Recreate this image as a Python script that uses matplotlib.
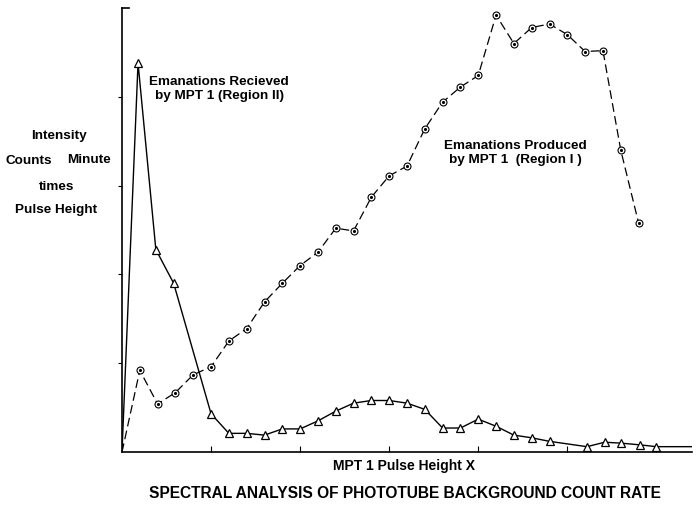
import matplotlib
matplotlib.use("Agg")
import matplotlib.pyplot as plt

plt.rcParams['font.family'] = ['Liberation Sans', 'DejaVu Sans']

# Emanations Produced by MPT 1 (Region I) - circles, dashed
prod_x = list(range(0, 30))
prod_y = [0, 9.2, 5.4, 6.7, 8.7, 9.6, 12.5, 13.9, 16.9, 19.0,
          21.0, 22.5, 25.2, 24.9, 28.7, 31.1, 32.2, 36.4, 39.4, 41.1,
          42.4, 49.2, 46.0, 47.8, 48.2, 47.0, 45.1, 45.2, 34.0, 25.8]

# Emanations Received by MPT 1 (Region II) - triangles, solid
recv_x = [0, 0.9, 1.9, 2.9, 5, 6, 7, 8, 9, 10, 11, 12, 13, 14, 15, 16, 17,
          18, 19, 20, 21, 22, 23, 24, 26.1, 27.1, 28, 29.1, 30, 32]
recv_y = [0, 43.8, 22.8, 19.0, 4.3, 2.1, 2.1, 1.9, 2.6, 2.6, 3.5, 4.6, 5.5,
          5.8, 5.8, 5.5, 4.8, 2.7, 2.7, 3.7, 2.9, 1.9, 1.6, 1.2, 0.6, 1.1,
          1.0, 0.8, 0.6, 0.6]
recv_marked = 29  # last point is line end only

x_ticks = [5, 10, 15, 20, 25, 30]
y_ticks = [10, 20, 30, 40]

fig = plt.figure(figsize=(6.96, 5.07), dpi=100)
ax = fig.add_axes([122/696, 1-452/507, (692-122)/696, (452-8)/507])
ax.set_xlim(0, 32)
ax.set_ylim(0, 50)

ax.plot(prod_x, prod_y, color='black', lw=0.9, ls=(0, (7, 3.5)))
ax.plot(prod_x[1:], prod_y[1:], ls='none', marker='o', ms=5, mfc='white',
        mec='black', mew=0.8)
ax.plot(prod_x[1:], prod_y[1:], ls='none', marker='.', ms=2.5, color='black')

ax.plot(recv_x, recv_y, color='black', lw=1.0)
ax.plot(recv_x[1:recv_marked], recv_y[1:recv_marked], ls='none', marker='^',
        ms=5.5, mfc='white', mec='black', mew=0.9)

for s in ['top', 'right']:
    ax.spines[s].set_visible(False)
ax.spines['left'].set_linewidth(1.2)
ax.spines['bottom'].set_linewidth(1.2)
ax.set_xticks(x_ticks)
ax.set_yticks(y_ticks)
ax.set_xticklabels([])
ax.set_yticklabels([])
ax.tick_params(axis='x', direction='in', length=4, width=0.8)
ax.tick_params(axis='y', direction='out', length=3, width=0.8)
# top bracket
ax.plot([0, 0.012], [1, 1], transform=ax.transAxes, color='black', lw=1.2,
        clip_on=False)

ax.text(5.45, 40.9, "Emanations Recieved\nby MPT 1 (Region II)", ha='center',
        va='center', fontsize=9.7, fontweight='bold', linespacing=1.25)
ax.text(22.1, 33.7, "Emanations Produced\nby MPT 1  (Region I )", ha='center',
        va='center', fontsize=9.7, fontweight='bold', linespacing=1.25)

fs = 9.7
fig.text(59/696, 1-136/507, "Intensity", ha='center', va='center', fontsize=fs, fontweight='bold')
fig.text(29/696, 1-161/507, "Counts", ha='center', va='center', fontsize=fs, fontweight='bold')
fig.text(89/696, 1-160/507, "Minute", ha='center', va='center', fontsize=fs, fontweight='bold')
fig.text(57/696, 1-187/507, "times", ha='center', va='center', fontsize=fs, fontweight='bold')
fig.text(56/696, 1-210/507, "Pulse Height", ha='center', va='center', fontsize=fs, fontweight='bold')

fig.text(404/696, 1-466/507, "MPT 1 Pulse Height X", ha='center', va='center',
         fontsize=10, fontweight='bold')
fig.text(405/696, 1-493/507, "SPECTRAL ANALYSIS OF PHOTOTUBE BACKGROUND COUNT RATE",
         ha='center', va='center', fontsize=11.2, fontweight='bold')

fig.savefig("out.png", dpi=100)
